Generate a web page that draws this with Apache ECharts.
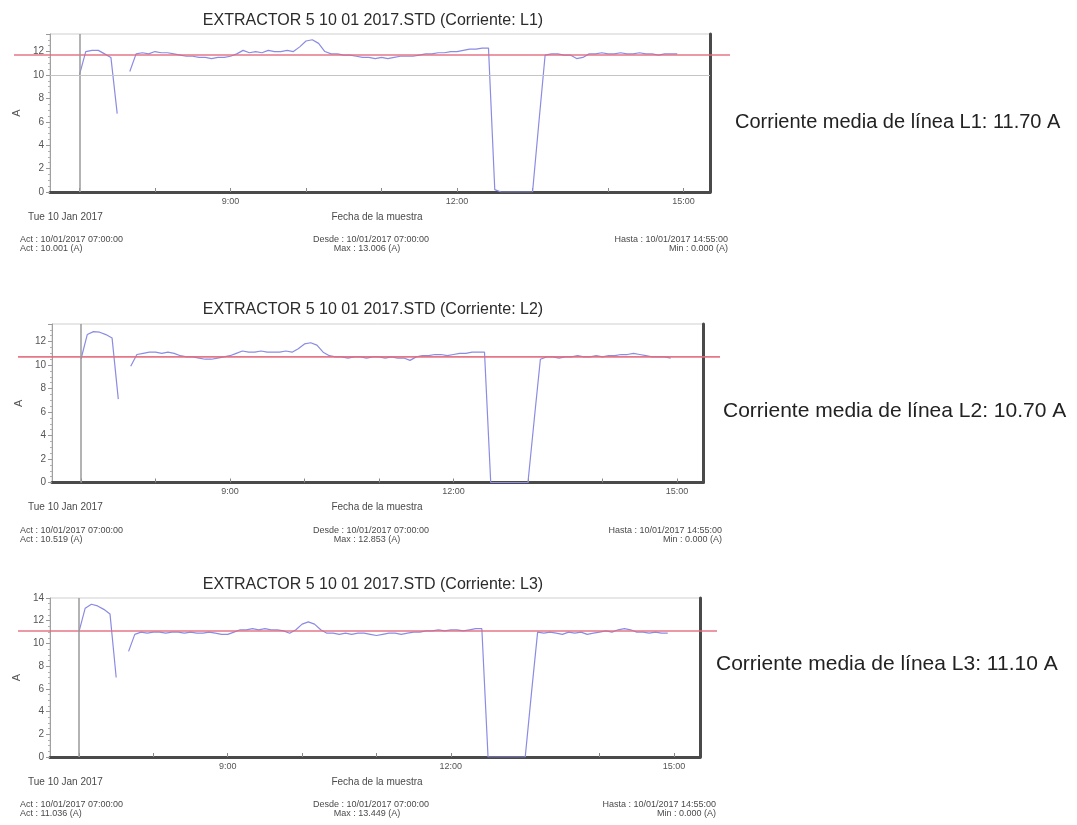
<!DOCTYPE html>
<html>
<head>
<meta charset="utf-8">
<script src="https://cdn.jsdelivr.net/npm/echarts@6/dist/echarts.min.js"></script>
<style>
  html, body { margin: 0; padding: 0; background: #ffffff; }
  #main { width: 1077px; height: 825px; }
</style>
</head>
<body>
<div id="main"></div>
<script>
// Sample clock (every 5 minutes, 10/01/2017)
const TIMES = [
  "07:00","07:05","07:10","07:15","07:20","07:25","07:30","07:35","07:40","07:45","07:50","07:55",
  "08:00","08:05","08:10","08:15","08:20","08:25","08:30","08:35","08:40","08:45","08:50","08:55",
  "09:00","09:05","09:10","09:15","09:20","09:25","09:30","09:35","09:40","09:45","09:50","09:55",
  "10:00","10:05","10:10","10:15","10:20","10:25","10:30","10:35","10:40","10:45","10:50","10:55",
  "11:00","11:05","11:10","11:15","11:20","11:25","11:30","11:35","11:40","11:45","11:50","11:55",
  "12:00","12:05","12:10","12:15","12:20","12:25","12:30","12:35","12:40","12:45","12:50","12:55",
  "13:00","13:05","13:10","13:15","13:20","13:25","13:30","13:35","13:40","13:45","13:50","13:55",
  "14:00","14:05","14:10","14:15","14:20","14:25","14:30","14:35","14:40","14:45","14:50","14:55"
];

// Phase currents (A); null = no sample recorded
const L1 = [
  10.001, 12.0, 12.1, 12.1, 11.8, 11.5, 6.7, null, 10.3, 11.8, 11.9, 11.8,
  12.0, 11.9, 11.9, 11.8, 11.7, 11.6, 11.6, 11.5, 11.5, 11.4, 11.5, 11.5,
  11.6, 11.8, 12.1, 11.9, 12.0, 11.9, 12.1, 12.0, 12.0, 12.1, 12.0, 12.4,
  12.9, 13.006, 12.7, 12.0, 11.8, 11.8, 11.7, 11.7, 11.6, 11.5, 11.5, 11.4,
  11.5, 11.4, 11.5, 11.6, 11.6, 11.6, 11.7, 11.8, 11.8, 11.9, 11.9, 12.0,
  12.0, 12.1, 12.2, 12.2, 12.3, 12.3, 0.2, 0, 0, 0, 0, 0,
  0, 5.9, 11.7, 11.8, 11.8, 11.7, 11.7, 11.4, 11.5, 11.8, 11.8, 11.9,
  11.8, 11.8, 11.9, 11.8, 11.8, 11.9, 11.8, 11.8, 11.7, 11.8, 11.8, 11.8
];
const L2 = [
  10.519, 12.6, 12.853, 12.8, 12.6, 12.3, 7.1, null, 9.9, 10.9, 11.0, 11.1,
  11.1, 11.0, 11.1, 11.0, 10.8, 10.7, 10.7, 10.6, 10.5, 10.5, 10.6, 10.7,
  10.8, 11.0, 11.2, 11.1, 11.1, 11.2, 11.1, 11.1, 11.1, 11.2, 11.1, 11.4,
  11.8, 11.9, 11.7, 11.1, 10.8, 10.7, 10.7, 10.6, 10.7, 10.7, 10.6, 10.7,
  10.7, 10.6, 10.7, 10.6, 10.6, 10.4, 10.7, 10.8, 10.8, 10.9, 10.9, 10.8,
  10.9, 11.0, 11.0, 11.1, 11.1, 11.1, 0, 0, 0, 0, 0, 0,
  0, 5.3, 10.5, 10.7, 10.7, 10.6, 10.7, 10.7, 10.8, 10.7, 10.7, 10.8,
  10.7, 10.8, 10.8, 10.9, 10.9, 11.0, 10.9, 10.8, 10.7, 10.7, 10.7, 10.6
];
const L3 = [
  11.036, 13.1, 13.449, 13.3, 13.0, 12.6, 7.0, null, 9.3, 10.8, 11.0, 10.9,
  11.0, 11.0, 10.9, 11.0, 11.0, 10.9, 11.0, 10.9, 10.9, 11.0, 10.9, 10.8,
  10.8, 11.0, 11.2, 11.2, 11.3, 11.2, 11.3, 11.2, 11.2, 11.1, 10.9, 11.2,
  11.7, 11.9, 11.7, 11.2, 10.9, 10.9, 10.8, 10.9, 10.8, 10.9, 10.9, 10.8,
  10.7, 10.8, 10.9, 10.9, 10.8, 10.9, 11.0, 11.0, 11.1, 11.1, 11.2, 11.1,
  11.2, 11.2, 11.1, 11.2, 11.3, 11.3, 0, 0, 0, 0, 0, 0,
  0, 5.6, 11.0, 10.9, 11.0, 10.9, 10.8, 11.0, 10.9, 11.0, 10.8, 10.9,
  11.0, 11.1, 11.0, 11.2, 11.3, 11.2, 11.0, 11.0, 10.9, 11.0, 10.9, 10.9
];

const PHASES = ["L1", "L2", "L3"];
const SERIES_VALUES = [L1, L2, L3];
const MEANS = [11.70, 10.70, 11.10];
const THRESHOLDS = [10, null, null];
const Y_MAX = [13.5, 13.5, 14];
const X_TICKS = [7, 8, 9, 10, 11, 12, 13, 14, 15];
const X_LABELS = [9, 12, 15];
const DAY_LABEL = "Tue 10 Jan 2017";
const DATE = "10/01/2017";

// Panel placement on the page
const PANELS = [
  { top: 34,  height: 158,   left: 50, right: 710, meanFrom: 14, meanTo: 730, titleY: 21,  sideX: 735, sideY: 122, sideFont: 20, endX: 728 },
  { top: 324, height: 158.5, left: 52, right: 703, meanFrom: 18, meanTo: 720, titleY: 310, sideX: 723, sideY: 411, sideFont: 21, endX: 722 },
  { top: 598, height: 159,   left: 50, right: 700, meanFrom: 18, meanTo: 717, titleY: 585, sideX: 716, sideY: 664, sideFont: 21, endX: 716 }
];
const X_MIN = 6.61, X_MAX = 15.35;
const FONT = '"Liberation Sans", Arial, sans-serif';

function toHours(t) {
  const [h, m] = t.split(":").map(Number);
  return h + m / 60;
}
function fmt(v) { return v.toFixed(3); }

const grids = [], xAxes = [], yAxes = [], series = [], texts = [];

PANELS.forEach((p, i) => {
  const values = SERIES_VALUES[i];
  const ymax = Y_MAX[i];
  const bottom = p.top + p.height;
  const gData = grids.length;
  grids.push({ left: p.left, top: p.top, width: p.right - p.left, height: p.height,
               show: true, borderColor: "#cfcfcf", borderWidth: 1 });
  const gMean = grids.length;
  grids.push({ left: p.meanFrom, top: p.top, width: p.meanTo - p.meanFrom, height: p.height, show: false });

  const xData = xAxes.length;
  xAxes.push({
    gridIndex: gData, type: "value", min: X_MIN, max: X_MAX,
    axisLine: { show: true, onZero: false, lineStyle: { color: "#4a4a4a", width: 3 } },
    axisTick: { show: true, inside: true, length: 4, customValues: X_TICKS, lineStyle: { color: "#888" } },
    axisLabel: { customValues: X_LABELS, formatter: v => Math.round(v) + ":00",
                 fontSize: 9, color: "#555", margin: 5, fontFamily: FONT },
    splitLine: { show: false }
  });
  const xMean = xAxes.length;
  xAxes.push({ gridIndex: gMean, type: "value", min: 0, max: 1, show: false });

  const yLeft = yAxes.length;
  yAxes.push({
    gridIndex: gData, type: "value", min: 0, max: ymax, interval: 2,
    name: "A", nameLocation: "middle", nameGap: 25,
    nameTextStyle: { fontSize: 11, color: "#555", fontFamily: FONT },
    axisLine: { show: true, lineStyle: { color: "#a0a0a0", width: 1 } },
    axisTick: { show: true, length: 4, lineStyle: { color: "#999" } },
    minorTick: { show: true, splitNumber: 4, length: 2, lineStyle: { color: "#b0b0b0" } },
    axisLabel: { fontSize: 10, color: "#555", margin: 6, fontFamily: FONT,
                 showMaxLabel: ymax % 2 === 0 },
    splitLine: { show: false }
  });
  yAxes.push({
    gridIndex: gData, type: "value", position: "right", min: 0, max: ymax,
    axisLine: { show: true, lineStyle: { color: "#4a4a4a", width: 3 } },
    axisTick: { show: false }, axisLabel: { show: false }, splitLine: { show: false }
  });
  const yMean = yAxes.length;
  yAxes.push({ gridIndex: gMean, type: "value", min: 0, max: ymax, show: false });

  // Cursor at the first sample and optional reference level
  const marks = [{ xAxis: toHours(TIMES[0]), lineStyle: { color: "#9a9a9a", width: 1.5, type: "solid" } }];
  if (THRESHOLDS[i] !== null) {
    marks.push({ yAxis: THRESHOLDS[i], lineStyle: { color: "#c4c4c4", width: 1, type: "solid" } });
  }

  series.push({
    type: "line", xAxisIndex: xData, yAxisIndex: yLeft, z: 3,
    showSymbol: false, connectNulls: false,
    data: TIMES.map((t, k) => [toHours(t), values[k] === null ? "-" : values[k]]),
    lineStyle: { color: "#8b8be4", width: 1.2 },
    markLine: { silent: true, symbol: "none", label: { show: false },
                lineStyle: { type: "solid" }, data: marks }
  });
  series.push({
    type: "line", xAxisIndex: xMean, yAxisIndex: yMean, z: 4,
    showSymbol: false, data: [[0, MEANS[i]], [1, MEANS[i]]],
    lineStyle: { color: "#e3687a", width: 1.6, opacity: 0.9 }
  });

  // Summary figures
  const nums = values.filter(v => v !== null);
  const vMax = Math.max(...nums), vMin = Math.min(...nums);
  const small = (text, x, y, align, size) => ({
    type: "text", x: x, y: y, silent: true,
    style: { text: text, font: (size || 9) + "px " + FONT, fill: "#4a4a4a", align: align, verticalAlign: "middle" }
  });
  texts.push({
    type: "text", x: 373, y: p.titleY, silent: true,
    style: { text: "EXTRACTOR 5 10 01 2017.STD (Corriente: " + PHASES[i] + ")",
             font: "16px " + FONT, fill: "#2b2b2b", align: "center", verticalAlign: "middle" }
  });
  texts.push(small(DAY_LABEL, 28, bottom + 25, "left", 10));
  texts.push(small("Fecha de la muestra", 377, bottom + 25, "center", 10));
  texts.push(small("Act : " + DATE + " " + TIMES[0] + ":00", 20, bottom + 48, "left"));
  texts.push(small("Act : " + fmt(values[0]) + " (A)", 20, bottom + 57, "left"));
  texts.push(small("Desde : " + DATE + " " + TIMES[0] + ":00", 371, bottom + 48, "center"));
  texts.push(small("Max : " + fmt(vMax) + " (A)", 367, bottom + 57, "center"));
  texts.push(small("Hasta : " + DATE + " " + TIMES[TIMES.length - 1] + ":00", p.endX, bottom + 48, "right"));
  texts.push(small("Min : " + fmt(vMin) + " (A)", p.endX, bottom + 57, "right"));
  texts.push({
    type: "text", x: p.sideX, y: p.sideY, silent: true,
    style: { text: "Corriente media de línea " + PHASES[i] + ": " + MEANS[i].toFixed(2) + " A",
             font: p.sideFont + "px " + FONT, fill: "#222", align: "left", verticalAlign: "middle" }
  });
});

const chart = echarts.init(document.getElementById("main"), null, { renderer: "canvas" });
chart.setOption({
  animation: false,
  backgroundColor: "#ffffff",
  grid: grids,
  xAxis: xAxes,
  yAxis: yAxes,
  series: series,
  graphic: { elements: texts }
});
</script>
</body>
</html>
